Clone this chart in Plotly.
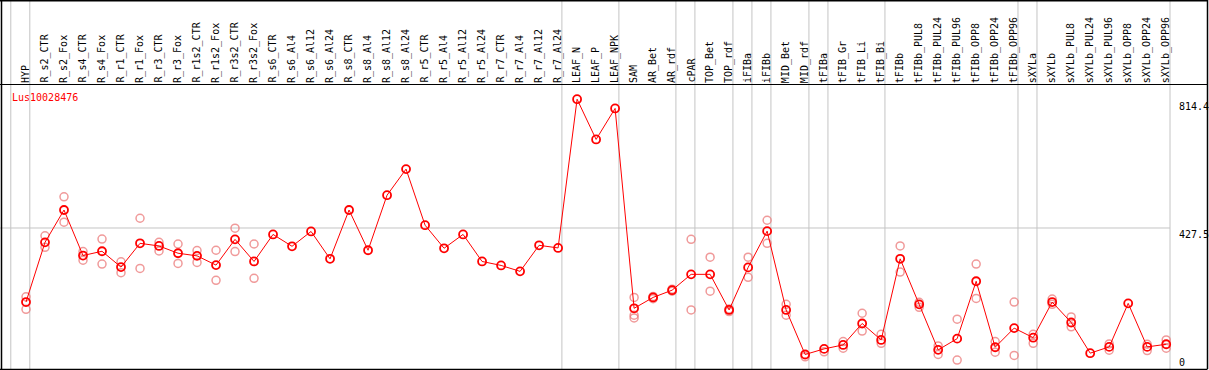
import plotly.graph_objects as go

categories = ["HYP", "R_s2_CTR", "R_s2_Fox", "R_s4_CTR", "R_s4_Fox", "R_r1_CTR", "R_r1_Fox",
              "R_r3_CTR", "R_r3_Fox", "R_r1s2_CTR", "R_r1s2_Fox", "R_r3s2_CTR", "R_r3s2_Fox",
              "R_s6_CTR", "R_s6_Al4", "R_s6_Al12", "R_s6_Al24", "R_s8_CTR", "R_s8_Al4",
              "R_s8_Al12", "R_s8_Al24", "R_r5_CTR", "R_r5_Al4", "R_r5_Al12", "R_r5_Al24",
              "R_r7_CTR", "R_r7_Al4", "R_r7_Al12", "R_r7_Al24", "LEAF_N", "LEAF_P", "LEAF_NPK",
              "SAM", "AR_Bet", "AR_rdf", "cPAR", "TOP_Bet", "TOP_rdf", "iFIBa", "iFIBb",
              "MID_Bet", "MID_rdf", "tFIBa", "tFIB_Gr", "tFIB_Li", "tFIB_Bi", "tFIBb",
              "tFIBb_PUL8", "tFIBb_PUL24", "tFIBb_PUL96", "tFIBb_OPP8", "tFIBb_OPP24",
              "tFIBb_OPP96", "sXYLa", "sXYLb", "sXYLb_PUL8", "sXYLb_PUL24", "sXYLb_PUL96",
              "sXYLb_OPP8", "sXYLb_OPP24", "sXYLb_OPP96"]

mean_values = [203, 384, 482, 344, 357, 309, 381, 373, 351, 343, 315, 393, 326,
               408, 372, 417, 334, 482, 360, 527, 606, 436, 366, 408, 326,
               314, 296, 375, 367, 818, 696, 790,
               184, 217, 239, 287, 287, 179, 308, 418, 179, 44, 61, 73, 138, 88,
               334, 196, 58, 92, 266, 66, 124, 95, 203, 141, 48, 67, 199, 67, 75]

rep_a = [219, 404, 522, 356, 394, 325, 457, 384, 379, 359, 360, 427, 379,
         None, None, None, None, None, None, None, None, None, None, None, None,
         None, None, None, None, None, None, None,
         217, 220, 242, 393, 339, 174, 339, 451, 196, 37, 52, 83, 169, 105,
         373, 202, 70, 151, 318, 83, 203, 105, 212, 158, None, 76, None, 75, 88]

rep_b = [181, 369, 445, 330, 318, 292, 305, 358, 320, 323, 269, 356, 275,
         None, None, None, None, None, None, None, None, None, None, None, None,
         None, None, None, None, None, None, None,
         163, 213, 236, 179, 236, 182, 278, 381, 163, None, None, 63, 115, 78,
         294, 187, 44, 27, 214, 51, 41, 78, 196, 128, None, 57, None, 56, 63]

rep_c = [None] * 32 + [155] + [None] * 28

group_ends = [-1, 0, 28, 31, 34, 35, 37, 38, 39, 41, 42, 45, 52, 53, 60]

tick_values = [814.4, 427.5, 0]
tick_labels = ["814.4", "427.5", "0"]
gene_name = "Lus10028476"

FONT = "DejaVu Sans Mono"
W, H = 1209, 370
ML, MR, MT, MB = 0, 39, 86, 1
PW = W - ML - MR
PH = H - MT - MB
XMIN, XMAX = -1.368, 60.2
YMIN, YMAX = 0, 858

def xpaper(v):
    return (v - XMIN) / (XMAX - XMIN)

x = list(range(len(categories)))
fig = go.Figure()

rep_color = "rgba(235,120,120,0.75)"
for reps in (rep_a, rep_b, rep_c):
    fig.add_trace(go.Scatter(
        x=x, y=reps, mode="markers", cliponaxis=False,
        marker=dict(symbol="circle-open", size=8, color=rep_color, line=dict(width=1.5, color=rep_color)),
        hoverinfo="skip"))

fig.add_trace(go.Scatter(
    x=x, y=mean_values, mode="lines+markers", cliponaxis=False,
    line=dict(color="#ff0000", width=1),
    marker=dict(symbol="circle-open", size=8, color="#ff0000", line=dict(width=1.8, color="#ff0000"))))

top_paper = 1 + MT / PH
shapes = []
for g in group_ends:
    xp = xpaper(g + 0.2)
    shapes.append(dict(type="line", xref="paper", yref="paper", x0=xp, x1=xp, y0=0, y1=top_paper,
                       line=dict(color="#c4c4c4", width=1), layer="below"))
shapes.append(dict(type="line", xref="paper", yref="y", x0=0, x1=1, y0=427.5, y1=427.5,
                   line=dict(color="#c4c4c4", width=1), layer="below"))
right_p = (W - 1.5) / PW
shapes += [
    dict(type="line", xref="paper", yref="paper", x0=0, x1=right_p, y0=top_paper - 0.5 / PH, y1=top_paper - 0.5 / PH, line=dict(color="black", width=2)),
    dict(type="line", xref="paper", yref="paper", x0=0, x1=right_p, y0=1 + 1.5 / PH, y1=1 + 1.5 / PH, line=dict(color="black", width=1)),
    dict(type="line", xref="paper", yref="paper", x0=0, x1=right_p, y0=0 - 0.5 / PH, y1=0 - 0.5 / PH, line=dict(color="black", width=1.5)),
    dict(type="line", xref="paper", yref="paper", x0=1.5 / PW, x1=1.5 / PW, y0=0, y1=top_paper, line=dict(color="black", width=1.5)),
    dict(type="line", xref="paper", yref="paper", x0=right_p, x1=right_p, y0=0, y1=top_paper, line=dict(color="black", width=1.5)),
]

annotations = []
for i, c in enumerate(categories):
    annotations.append(dict(x=i, y=1 + 2 / PH, xref="x", yref="paper", text=c, textangle=-90,
                            showarrow=False, xanchor="center", yanchor="bottom",
                            font=dict(family=FONT, size=10, color="black"), borderpad=0))
annotations.append(dict(x=10 / PW, y=1 - 11 / PH, xref="paper", yref="paper", text=gene_name,
                        showarrow=False, xanchor="left", yanchor="middle",
                        font=dict(family=FONT, size=10, color="#ff0000")))
anchors = ["top", "top", "bottom"]
for v, t, a in zip(tick_values, tick_labels, anchors):
    annotations.append(dict(x=(1178 - ML) / PW, y=v, xref="paper", yref="y", text=t,
                            showarrow=False, xanchor="left", yanchor=a, borderpad=0,
                            font=dict(family=FONT, size=10, color="black")))

fig.update_layout(
    width=W, height=H, margin=dict(l=ML, r=MR, t=MT, b=MB, pad=0),
    paper_bgcolor="white", plot_bgcolor="white", showlegend=False,
    xaxis=dict(range=[XMIN, XMAX], visible=False, fixedrange=True),
    yaxis=dict(range=[YMIN, YMAX], visible=False, fixedrange=True),
    shapes=shapes, annotations=annotations,
)

fig.write_html("out.html", config={"displayModeBar": False},
               post_script="document.body.style.margin='0';document.body.style.overflow='hidden';")
